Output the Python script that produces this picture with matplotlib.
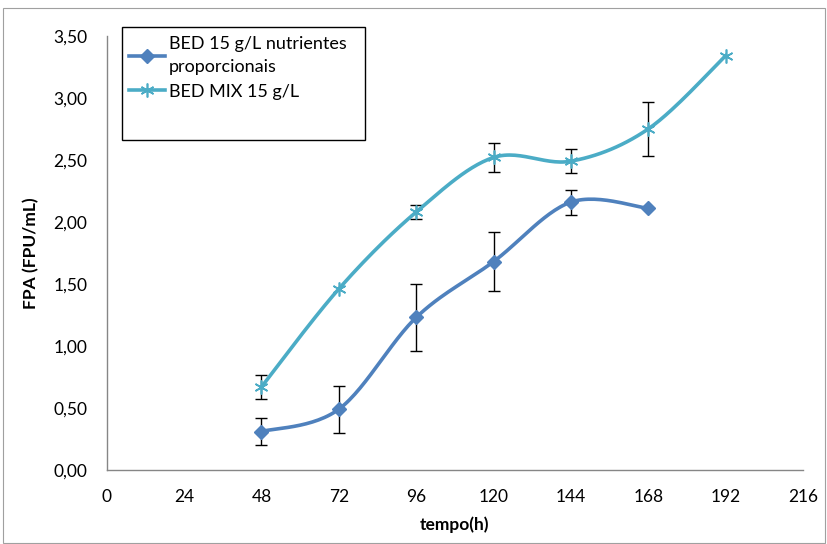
import numpy as np
import matplotlib.pyplot as plt
from matplotlib.ticker import FuncFormatter

# dados
t1 = [48, 72, 96, 120, 144, 168]
fpa1 = [0.31, 0.49, 1.23, 1.68, 2.16, 2.11]
err1 = [0.11, 0.19, 0.27, 0.24, 0.10, 0.0]

t2 = [48, 72, 96, 120, 144, 168, 192]
fpa2 = [0.67, 1.46, 2.08, 2.52, 2.49, 2.75, 3.34]
err2 = [0.10, 0.0, 0.055, 0.12, 0.095, 0.215, 0.0]

label1 = "BED 15 g/L nutrientes\nproporcionais"
label2 = "BED MIX 15 g/L"

c1 = "#4F81BD"
c2 = "#4BACC6"

plt.rcParams['font.family'] = ['Lato', 'DejaVu Sans']


def smooth(x, y, n=30):
    # curva suave tipo excel (bezier catmull-rom)
    x = np.asarray(x, float)
    y = np.asarray(y, float)
    px = np.concatenate([[x[0]], x, [x[-1]]])
    py = np.concatenate([[y[0]], y, [y[-1]]])
    xs, ys = [], []
    s = np.linspace(0, 1, n)
    for i in range(1, len(px) - 2):
        p0 = np.array([px[i], py[i]])
        p3 = np.array([px[i + 1], py[i + 1]])
        p1 = p0 + (p3 - np.array([px[i - 1], py[i - 1]])) / 6.0
        p2 = p3 - (np.array([px[i + 2], py[i + 2]]) - p0) / 6.0
        b = ((1 - s) ** 3)[:, None] * p0 + (3 * (1 - s) ** 2 * s)[:, None] * p1 \
            + (3 * (1 - s) * s ** 2)[:, None] * p2 + (s ** 3)[:, None] * p3
        xs.extend(b[:, 0])
        ys.extend(b[:, 1])
    return xs, ys


fig = plt.figure(figsize=(8.27, 5.44), dpi=100)
ax = fig.add_axes([0.129, 0.136, 0.842, 0.798])

# moldura externa
fig.patches.append(plt.Rectangle((0.004, 0.002), 0.994, 0.983, transform=fig.transFigure,
                                 fill=False, edgecolor='#a0a0a0', lw=0.8))

e1 = [(t, v, e) for t, v, e in zip(t1, fpa1, err1) if e > 0]
e2 = [(t, v, e) for t, v, e in zip(t2, fpa2, err2) if e > 0]
ax.errorbar([a[0] for a in e1], [a[1] for a in e1], yerr=[a[2] for a in e1],
            fmt='none', ecolor='black', elinewidth=1.0, capsize=4, capthick=1.0, zorder=2)
ax.errorbar([a[0] for a in e2], [a[1] for a in e2], yerr=[a[2] for a in e2],
            fmt='none', ecolor='black', elinewidth=1.0, capsize=4, capthick=1.0, zorder=2)

sx, sy = smooth(t1, fpa1)
ax.plot(sx, sy, color=c1, lw=2.6, zorder=3)
ax.plot(t1, fpa1, ls='none', marker='D', ms=7, color=c1, zorder=4)
ax.plot([], [], color=c1, lw=2.6, marker='D', ms=7, label=label1)

sx, sy = smooth(t2, fpa2)
ax.plot(sx, sy, color=c2, lw=2.6, zorder=3)
ax.plot(t2, fpa2, ls='none', marker=(6, 2, 0), ms=10, mew=1.2, color=c2, zorder=4)
ax.plot([], [], color=c2, lw=2.6, marker=(6, 2, 0), ms=10, mew=1.2, label=label2)

ax.set_xlim(0, 216)
ax.set_ylim(0, 3.5)
ax.set_xticks(np.arange(0, 217, 24))
ax.set_yticks(np.arange(0, 3.51, 0.5))
ax.yaxis.set_major_formatter(FuncFormatter(lambda v, p: f"{v:.2f}".replace('.', ',')))
ax.tick_params(length=0, labelsize=12.5)
ax.tick_params(axis='x', pad=14)
ax.tick_params(axis='y', pad=14)

for s in ['top', 'right']:
    ax.spines[s].set_visible(False)
for s in ['left', 'bottom']:
    ax.spines[s].set_color('#868686')
    ax.spines[s].set_linewidth(1.0)

ax.set_xlabel('tempo(h)', fontsize=12.5, fontweight='bold', labelpad=8)
ax.set_ylabel('FPA (FPU/mL)', fontsize=12.5, fontweight='bold', labelpad=10)

leg = ax.legend(loc='upper left', bbox_to_anchor=(0.024, 1.012), fontsize=13, frameon=False,
                handlelength=2.0, handletextpad=0.2,
                borderpad=0.3, labelspacing=0.5, borderaxespad=0)
for txt in leg.get_texts():
    txt.set_linespacing(1.5)
# caixa da legenda
ax.add_patch(plt.Rectangle((0.0216, 0.760), 0.349, 0.261, transform=ax.transAxes,
                           fill=False, edgecolor='black', lw=1.0, clip_on=False, zorder=5))

fig.savefig('out.png', dpi=100)
